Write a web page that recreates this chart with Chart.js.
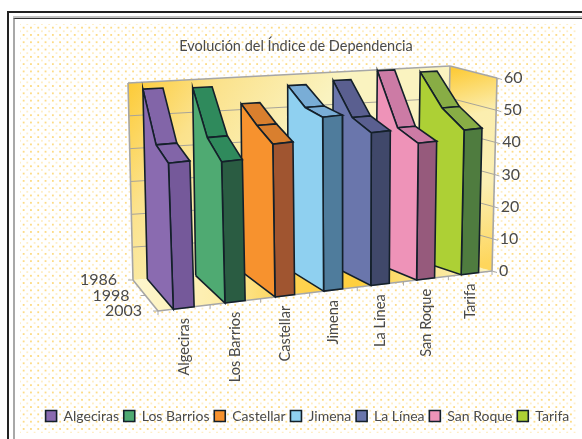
<!DOCTYPE html>
<html>
<head>
<meta charset="utf-8">
<script src="https://cdn.jsdelivr.net/npm/chart.js@4"></script>
<style>
  html, body { margin: 0; background: #fff; overflow: hidden; }
  #outer { position: absolute; left: 7px; top: 11px; width: 600px; height: 460px; border: 2px solid #222; }
  #inner { position: absolute; left: 13px; top: 18px; width: 600px; height: 460px; border-left: 2px solid #a8a8a8; border-top: 1px solid #333; box-shadow: 0 -2px 0 #c4c4c4; }
  #dots {
    position: absolute; left: 20px; top: 24px; width: 557px; height: 409px;
    background-image:
      radial-gradient(circle, #fcd777 0.6px, transparent 1px),
      radial-gradient(circle, #feeec6 0.9px, transparent 1.3px);
    background-size: 7.3px 7.3px;
    background-position: 0 0, 3.65px 3.65px;
  }
  #wrap { position: absolute; left: 0; top: 0; width: 582px; height: 439px; }
</style>
</head>
<body>
<div id="outer"></div>
<div id="inner"></div>
<div id="dots"></div>
<div id="wrap"><canvas id="chart" width="582" height="439"></canvas></div>
<script>
const municipios = ['Algeciras', 'Los Barrios', 'Castellar', 'Jimena', 'La Línea', 'San Roque', 'Tarifa'];
const years = ['1986', '1998', '2003'];
const yearDepth = [0, 0.5, 1];
const valueTicks = [0, 10, 20, 30, 40, 50, 60];

const v1986 = [57.9, 57.5, 51.8, 56.6, 57.4, 59.7, 58.6];
const v1998 = [45.7, 46.6, 49.0, 53.3, 49.0, 44.6, 49.6];
const v2003 = [44.9, 43.5, 47.2, 53.8, 47.3, 42.4, 44.9];

const sideColors = ['#8a6bb0', '#4faa72', '#f7922e', '#8fd0f0', '#6a76ac', '#ee93b8', '#add035'];
const topColors = ['#8265a8', '#2f8a5c', '#d97f2e', '#79add6', '#5a5f90', '#cc7ba5', '#88ad45'];
const frontColors = ['#75599a', '#2a5c42', '#a05530', '#4f7c9c', '#40486a', '#965a7c', '#4f7c3f'];

// box corners on the page, b = back, f = front, l/r = left/right, t/d = top/down
const bld = [133, 280], blt = [128, 83], brd = [446, 258], brt = [450, 66];
const fld = [158, 311], flt = [151, 116], frd = [492, 271], frt = [497, 78];
const widthPersp = 0.109; // categories get narrower to the right
const barFrom = 0.29, barTo = 0.69;
const FONT = 'Lato, "Open Sans", sans-serif';
const INK = '#4a4a4a';

function project(u, value, z) {
  const v = value / 60;
  const w = u * (1 + widthPersp) / (1 + widthPersp * u);
  const mix = (a, b, t) => [a[0] + (b[0] - a[0]) * t, a[1] + (b[1] - a[1]) * t];
  const back = mix(mix(bld, brd, w), mix(blt, brt, w), v);
  const front = mix(mix(fld, frd, w), mix(flt, frt, w), v);
  const p = mix(back, front, z);
  return { x: p[0], y: p[1] };
}

function face(color, pts, label) {
  return {
    label: label,
    data: pts.concat([pts[0]]),
    backgroundColor: color,
    borderColor: '#14202a',
    borderWidth: 1.6,
    pointRadius: 0,
    showLine: true,
    tension: 0,
    fill: false,
    clip: false
  };
}

const datasets = [];
municipios.forEach((name, i) => {
  const ul = (i + barFrom) / municipios.length;
  const ur = (i + barTo) / municipios.length;
  const vals = [v1986[i], v1998[i], v2003[i]];
  const edge = u => vals.map((v, k) => project(u, v, yearDepth[k]));
  const l = edge(ul);
  const r = edge(ur);
  datasets.push(face(sideColors[i], [project(ul, 0, 0), l[0], l[1], l[2], project(ul, 0, 1)], name));
  datasets.push(face(frontColors[i], [project(ul, 0, 1), l[2], r[2], project(ur, 0, 1)]));
  datasets.push(face(topColors[i], [l[1], r[1], r[2], l[2]]));
  datasets.push(face(topColors[i], [l[0], r[0], r[1], l[1]]));
});

const polyFill = {
  id: 'polyFill',
  beforeDatasetDraw(chart, args) {
    const pts = args.meta.data;
    const ctx = chart.ctx;
    ctx.save();
    ctx.beginPath();
    pts.forEach((p, k) => (k ? ctx.lineTo(p.x, p.y) : ctx.moveTo(p.x, p.y)));
    ctx.closePath();
    ctx.fillStyle = chart.data.datasets[args.index].backgroundColor;
    ctx.fill();
    ctx.restore();
  }
};

const box3d = {
  id: 'box3d',
  beforeDatasetsDraw(chart) {
    const ctx = chart.ctx;
    const { x: sx, y: sy } = chart.scales;
    const px = p => [sx.getPixelForValue(p.x), sy.getPixelForValue(p.y)];
    const poly = pts => {
      ctx.beginPath();
      pts.forEach((p, k) => {
        const q = px(p);
        k ? ctx.lineTo(q[0], q[1]) : ctx.moveTo(q[0], q[1]);
      });
      ctx.closePath();
    };
    const seg = (a, b) => {
      const p = px(a), q = px(b);
      ctx.beginPath();
      ctx.moveTo(p[0], p[1]);
      ctx.lineTo(q[0], q[1]);
      ctx.stroke();
    };
    ctx.save();

    // back wall
    let g = ctx.createLinearGradient(128, 70, 280, 170);
    g.addColorStop(0, '#fdc92f');
    g.addColorStop(0.45, '#fbe28c');
    g.addColorStop(1, '#faf3c0');
    poly([project(0, 0, 0), project(0, 60, 0), project(1, 60, 0), project(1, 0, 0)]);
    ctx.fillStyle = g;
    ctx.fill();

    // floor
    g = ctx.createLinearGradient(140, 0, 492, 0);
    g.addColorStop(0, '#fdf6cc');
    g.addColorStop(0.2, '#fdeeae');
    g.addColorStop(0.42, '#fed352');
    g.addColorStop(0.62, '#fecf3e');
    g.addColorStop(0.8, '#fbe48e');
    g.addColorStop(1, '#faf3c0');
    poly([project(0, 0, 0), project(0, 0, 1), project(1, 0, 1), project(1, 0, 0)]);
    ctx.fillStyle = g;
    ctx.fill();

    // right wall
    g = ctx.createLinearGradient(450, 70, 500, 260);
    g.addColorStop(0, '#fdcb38');
    g.addColorStop(0.25, '#fbeeaf');
    g.addColorStop(0.6, '#fbefb4');
    g.addColorStop(1, '#fed65c');
    poly([project(1, 0, 0), project(1, 60, 0), project(1, 60, 1), project(1, 0, 1)]);
    ctx.fillStyle = g;
    ctx.fill();

    // grid and ticks
    ctx.strokeStyle = '#a8a499';
    ctx.lineWidth = 1;
    valueTicks.slice(1, -1).forEach(v => {
      seg(project(0, v, 0), project(1, v, 0));
      seg(project(1, v, 0), project(1, v, 1));
    });
    ctx.strokeStyle = '#aaa';
    valueTicks.forEach(v => {
      const p = project(1, v, 1);
      seg(p, { x: p.x + 5, y: p.y + 1.5 });
    });
    for (let i = 0; i <= municipios.length; i++) {
      const p = project(i / municipios.length, 0, 1);
      seg(p, { x: p.x, y: p.y + 4 });
    }
    yearDepth.forEach(z => {
      const p = project(0, 0, z);
      seg(p, { x: p.x - 5, y: p.y });
    });

    // box outline
    ctx.strokeStyle = '#a6a6a6';
    ctx.lineWidth = 1.6;
    seg(project(0, 0, 0), project(0, 60, 0));
    seg(project(0, 60, 0), project(1, 60, 0));
    seg(project(1, 60, 0), project(1, 60, 1));
    seg(project(1, 60, 1), project(1, 0, 1));
    seg(project(1, 0, 1), project(0, 0, 1));
    seg(project(0, 0, 1), project(0, 0, 0));
    seg(project(1, 60, 0), project(1, 0, 0));
    ctx.restore();
  },
  afterDatasetsDraw(chart) {
    const ctx = chart.ctx;
    const { x: sx, y: sy } = chart.scales;
    ctx.save();
    ctx.fillStyle = INK;
    ctx.textBaseline = 'middle';

    ctx.font = '16px ' + FONT;
    ctx.textAlign = 'left';
    valueTicks.forEach(v => {
      const p = project(1, v, 1);
      ctx.fillText(String(v), sx.getPixelForValue(p.x) + 7, sy.getPixelForValue(p.y));
    });

    ctx.textAlign = 'right';
    years.forEach((y, k) => {
      const p = project(0, 0, yearDepth[k]);
      ctx.fillText(y, sx.getPixelForValue(p.x) - 16, sy.getPixelForValue(p.y));
    });

    ctx.font = '14.6px ' + FONT;
    municipios.forEach((name, i) => {
      const p = project((i + 0.5) / municipios.length, 0, 1);
      ctx.save();
      ctx.translate(sx.getPixelForValue(p.x), sy.getPixelForValue(p.y) + 10);
      ctx.rotate(-Math.PI / 2);
      ctx.textAlign = 'right';
      ctx.fillText(name, 0, 0);
      ctx.restore();
    });
    ctx.restore();
  }
};

new Chart(document.getElementById('chart'), {
  type: 'scatter',
  data: { datasets },
  plugins: [box3d, polyFill],
  options: {
    responsive: false,
    animation: false,
    layout: { padding: { left: 18, right: 8, top: 0, bottom: 6 } },
    scales: {
      x: { type: 'linear', display: false, min: 18, max: 574 },
      y: { type: 'linear', display: false, min: 55.4, max: 404.2, reverse: true }
    },
    plugins: {
      tooltip: { enabled: false },
      title: {
        display: true,
        text: 'Evolución del Índice de Dependencia',
        color: INK,
        font: { family: FONT, size: 14.5, weight: 'normal' },
        padding: { top: 38, bottom: 0 }
      },
      legend: {
        position: 'bottom',
        align: 'end',
        labels: {
          color: INK,
          font: { family: FONT, size: 14, weight: 'normal' },
          boxWidth: 11,
          boxHeight: 11,
          padding: 4.8,
          filter: item => !!item.text
        }
      }
    }
  }
});
</script>
</body>
</html>
